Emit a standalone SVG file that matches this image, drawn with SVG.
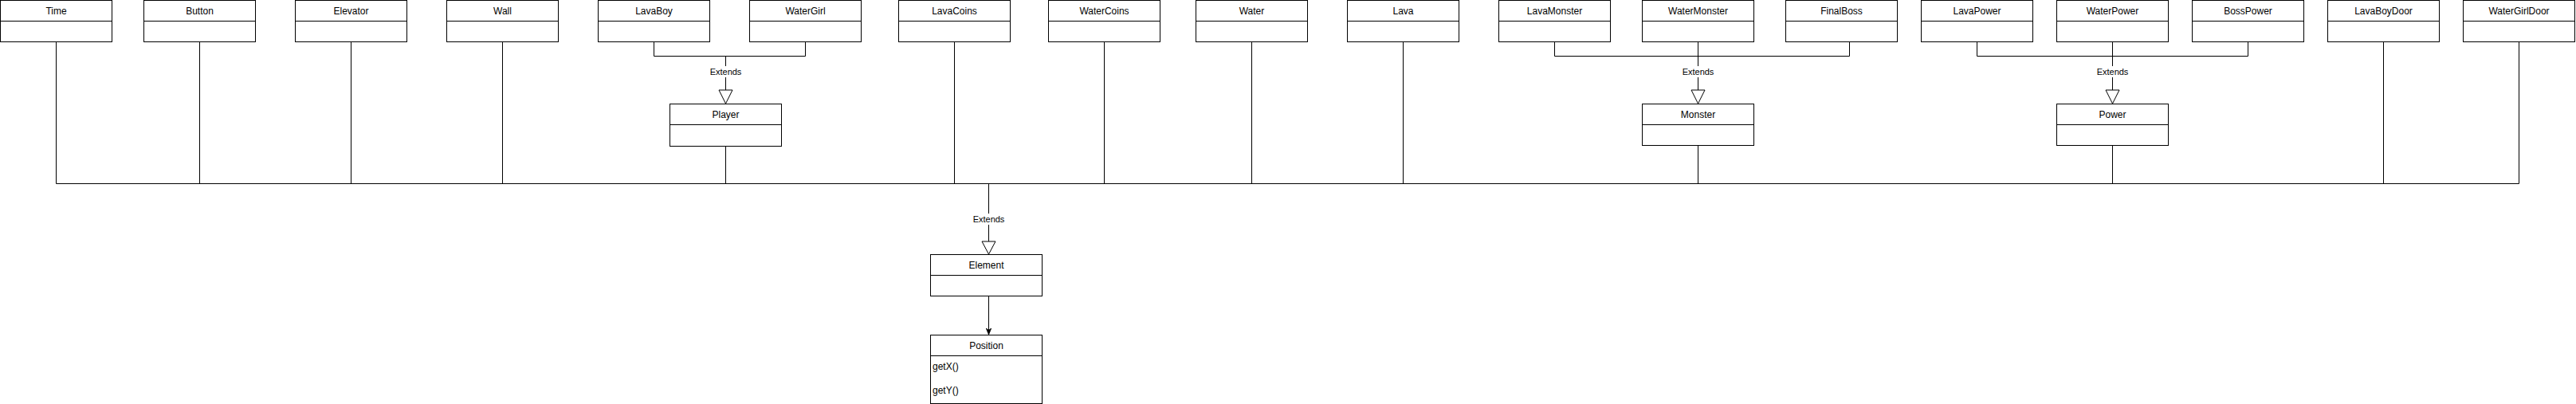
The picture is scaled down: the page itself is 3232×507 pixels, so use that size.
<svg xmlns="http://www.w3.org/2000/svg" width="3232" height="507" viewBox="0 0 3232 507">
<style>
.box{fill:#fff;stroke:#000;stroke-width:1}
.sep{stroke:#000;stroke-width:1}
.t{font-family:"Liberation Sans",Arial,sans-serif;font-size:12px;fill:#000;text-anchor:middle;dominant-baseline:central}
.f{font-family:"Liberation Sans",Arial,sans-serif;font-size:12px;fill:#000;dominant-baseline:central}
.c{fill:none;stroke:#000;stroke-width:1}
.lbl{font-family:"Liberation Sans",Arial,sans-serif;font-size:11px;fill:#000;text-anchor:middle;dominant-baseline:central}
.lblbg{fill:#fff}
.tri{fill:#fff;stroke:#000;stroke-width:1}
</style>
<defs>
<marker id="arr" viewBox="0 0 10 10" refX="10" refY="5" markerWidth="8" markerHeight="8" markerUnits="userSpaceOnUse" orient="auto">
<path d="M0,1 L10,5 L0,9 L3,5 Z" fill="#000" stroke="#000"/>
</marker>
</defs>
<rect width="3232" height="507" fill="#fff"/>

<g id="connectors">
<!-- bus to Element -->
<path class="c" d="M70.5,52 V230.5 H3160.5 V52"/>
<path class="c" d="M250.5,52 V230.5"/>
<path class="c" d="M440.5,52 V230.5"/>
<path class="c" d="M630.5,52 V230.5"/>
<path class="c" d="M910.5,183 V230.5"/>
<path class="c" d="M1197.5,52 V230.5"/>
<path class="c" d="M1385.5,52 V230.5"/>
<path class="c" d="M1570.5,52 V230.5"/>
<path class="c" d="M1760.5,52 V230.5"/>
<path class="c" d="M2130.5,182 V230.5"/>
<path class="c" d="M2650.5,182 V230.5"/>
<path class="c" d="M2990.5,52 V230.5"/>
<path class="c" d="M1240.5,230.5 V303"/>
<polygon class="tri" points="1232,303 1249,303 1240.5,319"/>
<rect class="lblbg" x="1219" y="268" width="43" height="14"/>
<text class="lbl" x="1240.5" y="275">Extends</text>
<!-- Player -->
<path class="c" d="M820.5,52 V70.5 H1010.5 V52"/>
<path class="c" d="M910.5,70.5 V113"/>
<polygon class="tri" points="902,113 919,113 910.5,130"/>
<rect class="lblbg" x="889" y="83" width="43" height="14"/>
<text class="lbl" x="910.5" y="90">Extends</text>
<!-- Monster -->
<path class="c" d="M1950.5,52 V70.5 H2320.5 V52"/>
<path class="c" d="M2130.5,52 V113"/>
<polygon class="tri" points="2122,113 2139,113 2130.5,130"/>
<rect class="lblbg" x="2109" y="83" width="43" height="14"/>
<text class="lbl" x="2130.5" y="90">Extends</text>
<!-- Power -->
<path class="c" d="M2480.5,52 V70.5 H2820.5 V52"/>
<path class="c" d="M2650.5,52 V113"/>
<polygon class="tri" points="2642,113 2659,113 2650.5,130"/>
<rect class="lblbg" x="2629" y="83" width="43" height="14"/>
<text class="lbl" x="2650.5" y="90">Extends</text>
<!-- Element to Position -->
<path class="c" d="M1240.5,371 V420" marker-end="url(#arr)"/>
</g>

<g id="Time"><rect class="box" x="0.5" y="0.5" width="140" height="52"/><line class="sep" x1="0.5" y1="26.5" x2="140.5" y2="26.5"/><text class="t" x="70.5" y="13.5">Time</text></g>
<g id="Button"><rect class="box" x="180.5" y="0.5" width="140" height="52"/><line class="sep" x1="180.5" y1="26.5" x2="320.5" y2="26.5"/><text class="t" x="250.5" y="13.5">Button</text></g>
<g id="Elevator"><rect class="box" x="370.5" y="0.5" width="140" height="52"/><line class="sep" x1="370.5" y1="26.5" x2="510.5" y2="26.5"/><text class="t" x="440.5" y="13.5">Elevator</text></g>
<g id="Wall"><rect class="box" x="560.5" y="0.5" width="140" height="52"/><line class="sep" x1="560.5" y1="26.5" x2="700.5" y2="26.5"/><text class="t" x="630.5" y="13.5">Wall</text></g>
<g id="LavaBoy"><rect class="box" x="750.5" y="0.5" width="140" height="52"/><line class="sep" x1="750.5" y1="26.5" x2="890.5" y2="26.5"/><text class="t" x="820.5" y="13.5">LavaBoy</text></g>
<g id="WaterGirl"><rect class="box" x="940.5" y="0.5" width="140" height="52"/><line class="sep" x1="940.5" y1="26.5" x2="1080.5" y2="26.5"/><text class="t" x="1010.5" y="13.5">WaterGirl</text></g>
<g id="LavaCoins"><rect class="box" x="1127.5" y="0.5" width="140" height="52"/><line class="sep" x1="1127.5" y1="26.5" x2="1267.5" y2="26.5"/><text class="t" x="1197.5" y="13.5">LavaCoins</text></g>
<g id="WaterCoins"><rect class="box" x="1315.5" y="0.5" width="140" height="52"/><line class="sep" x1="1315.5" y1="26.5" x2="1455.5" y2="26.5"/><text class="t" x="1385.5" y="13.5">WaterCoins</text></g>
<g id="Water"><rect class="box" x="1500.5" y="0.5" width="140" height="52"/><line class="sep" x1="1500.5" y1="26.5" x2="1640.5" y2="26.5"/><text class="t" x="1570.5" y="13.5">Water</text></g>
<g id="Lava"><rect class="box" x="1690.5" y="0.5" width="140" height="52"/><line class="sep" x1="1690.5" y1="26.5" x2="1830.5" y2="26.5"/><text class="t" x="1760.5" y="13.5">Lava</text></g>
<g id="LavaMonster"><rect class="box" x="1880.5" y="0.5" width="140" height="52"/><line class="sep" x1="1880.5" y1="26.5" x2="2020.5" y2="26.5"/><text class="t" x="1950.5" y="13.5">LavaMonster</text></g>
<g id="WaterMonster"><rect class="box" x="2060.5" y="0.5" width="140" height="52"/><line class="sep" x1="2060.5" y1="26.5" x2="2200.5" y2="26.5"/><text class="t" x="2130.5" y="13.5">WaterMonster</text></g>
<g id="FinalBoss"><rect class="box" x="2240.5" y="0.5" width="140" height="52"/><line class="sep" x1="2240.5" y1="26.5" x2="2380.5" y2="26.5"/><text class="t" x="2310.5" y="13.5">FinalBoss</text></g>
<g id="LavaPower"><rect class="box" x="2410.5" y="0.5" width="140" height="52"/><line class="sep" x1="2410.5" y1="26.5" x2="2550.5" y2="26.5"/><text class="t" x="2480.5" y="13.5">LavaPower</text></g>
<g id="WaterPower"><rect class="box" x="2580.5" y="0.5" width="140" height="52"/><line class="sep" x1="2580.5" y1="26.5" x2="2720.5" y2="26.5"/><text class="t" x="2650.5" y="13.5">WaterPower</text></g>
<g id="BossPower"><rect class="box" x="2750.5" y="0.5" width="140" height="52"/><line class="sep" x1="2750.5" y1="26.5" x2="2890.5" y2="26.5"/><text class="t" x="2820.5" y="13.5">BossPower</text></g>
<g id="LavaBoyDoor"><rect class="box" x="2920.5" y="0.5" width="140" height="52"/><line class="sep" x1="2920.5" y1="26.5" x2="3060.5" y2="26.5"/><text class="t" x="2990.5" y="13.5">LavaBoyDoor</text></g>
<g id="WaterGirlDoor"><rect class="box" x="3090.5" y="0.5" width="140" height="52"/><line class="sep" x1="3090.5" y1="26.5" x2="3230.5" y2="26.5"/><text class="t" x="3160.5" y="13.5">WaterGirlDoor</text></g>

<g id="Player"><rect class="box" x="840.5" y="130.5" width="140" height="53"/><line class="sep" x1="840.5" y1="156.5" x2="980.5" y2="156.5"/><text class="t" x="910.5" y="143.5">Player</text></g>
<g id="Monster"><rect class="box" x="2060.5" y="130.5" width="140" height="52"/><line class="sep" x1="2060.5" y1="156.5" x2="2200.5" y2="156.5"/><text class="t" x="2130.5" y="143.5">Monster</text></g>
<g id="Power"><rect class="box" x="2580.5" y="130.5" width="140" height="52"/><line class="sep" x1="2580.5" y1="156.5" x2="2720.5" y2="156.5"/><text class="t" x="2650.5" y="143.5">Power</text></g>
<g id="Element"><rect class="box" x="1167.5" y="319.5" width="140" height="52"/><line class="sep" x1="1167.5" y1="345.5" x2="1307.5" y2="345.5"/><text class="t" x="1237.5" y="332.5">Element</text></g>
<g id="Position"><rect class="box" x="1167.5" y="420.5" width="140" height="86"/><line class="sep" x1="1167.5" y1="446.5" x2="1307.5" y2="446.5"/><text class="t" x="1237.5" y="433.5">Position</text><text class="f" x="1170" y="460">getX()</text><text class="f" x="1170" y="490">getY()</text></g>
</svg>
